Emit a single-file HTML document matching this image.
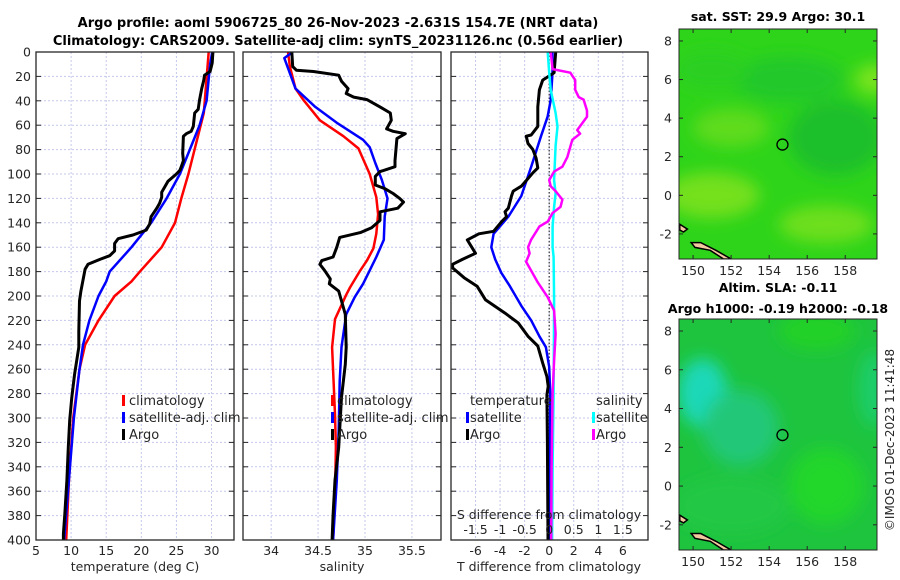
<!DOCTYPE html>
<html><head><meta charset="utf-8"><style>
html,body{margin:0;padding:0;background:#fff;width:900px;height:580px;overflow:hidden}
svg text{font-family:"DejaVu Sans","Liberation Sans",sans-serif;fill:#262626}
</style></head><body>
<svg id="chart" xmlns="http://www.w3.org/2000/svg" width="900" height="580" viewBox="0 0 900 580">
<defs>
<filter id="blur6" x="-50%" y="-50%" width="200%" height="200%"><feGaussianBlur stdDeviation="8"/></filter>
<clipPath id="clipMap1"><rect x="679" y="29" width="198" height="230"/></clipPath>
<clipPath id="clipMap2"><rect x="679" y="319" width="198" height="231"/></clipPath>
<clipPath id="clipP1"><rect x="36" y="52" width="198" height="488"/></clipPath>
<clipPath id="clipP2"><rect x="243" y="52" width="198" height="488"/></clipPath>
<clipPath id="clipP3"><rect x="451" y="52" width="197" height="488"/></clipPath>
</defs>
<text x="338" y="27" font-size="13" font-weight="bold" text-anchor="middle" style="fill:#000">Argo profile: aoml 5906725_80 26-Nov-2023 -2.631S 154.7E (NRT data)</text>
<text x="338" y="45" font-size="13" font-weight="bold" text-anchor="middle" style="fill:#000">Climatology: CARS2009. Satellite-adj clim: synTS_20231126.nc (0.56d earlier)</text>
<g id="panels"></g>
<g id="maps"></g>
<text x="894" y="440" font-size="12" text-anchor="middle" transform="rotate(-90 894 440)">©IMOS 01-Dec-2023 11:41:48</text>
</svg>
<script>
// ---------- data ----------
const depthTicks = [0,20,40,60,80,100,120,140,160,180,200,220,240,260,280,300,320,340,360,380,400];
const tempTicks = [5,10,15,20,25,30];
const salTicks = [34,34.5,35,35.5];
const salTickLabels = ['34','34.5','35','35.5'];
const tdiffTicks = [-6,-4,-2,0,2,4,6];
const sdiffTicks = [-1.5,-1,-0.5,0,0.5,1,1.5];
const sdiffTickLabels = ['-1.5','-1','-0.5','0','0.5','1','1.5'];

const climTdepth = [0,50,100,120,140,160,180,188,200,220,240,260,300,350,400];
const climT = [29.6,28.9,26.7,25.7,24.8,22.9,19.8,18.6,16.2,13.9,12.0,11.2,10.3,9.7,9.3];
const satTdepth = [0,10,40,60,80,100,120,140,160,180,188,200,220,240,260,300,350,400];
const satT = [30.1,29.8,29.3,28.3,26.9,25.5,23.6,21.4,18.6,15.5,15.0,13.9,12.6,11.7,11.2,10.4,9.7,9.0];
const argoTdepth = [0,9,16,19,23,30,39,47,50,61,65,67,69,83,89,94,97,100,106,115,119,124,128,135,141,146,150,153,157,163,167,170,174,178,187,196,204,229,242,253,264,283,302,324,351,379,395,400];
const argoT = [30.2,30.1,29.8,29.0,28.9,28.6,28.3,28.1,27.6,27.4,27.1,26.4,26.0,25.9,26.0,25.7,25.5,25.0,23.8,22.9,22.9,22.6,22.2,21.4,21.2,20.7,18.8,16.7,16.2,16.2,15.5,14.1,12.4,12.0,11.7,11.4,11.2,11.1,11.1,10.8,10.5,10.1,9.8,9.6,9.4,9.1,8.9,8.9];

const climSdepth = [0,12,30,39,56,69,79,100,119,133,149,161,171,179,193,199,219,242,261,297,324,365,400];
const climS = [34.18,34.20,34.26,34.34,34.52,34.77,34.93,35.05,35.12,35.14,35.12,35.09,35.02,34.95,34.84,34.80,34.68,34.65,34.66,34.68,34.69,34.68,34.66];
const satSdepth = [0,5,30,45,58,72,78,91,105,120,135,154,168,179,190,201,215,242,270,310,351,400];
const satS = [34.23,34.14,34.26,34.47,34.70,34.98,35.05,35.11,35.18,35.24,35.21,35.20,35.12,35.05,34.98,34.89,34.80,34.75,34.73,34.72,34.70,34.66];
const argoSdepth = [0,12,15,16,19,24,30,34,37,39,45,50,56,63,65,67,71,89,94,98,102,109,112,116,120,123,128,131,138,144,148,152,160,168,171,174,179,186,190,196,204,215,242,256,283,324,351,379,400];
const argoS = [34.22,34.23,34.27,34.45,34.72,34.75,34.82,34.80,34.88,35.02,35.16,35.27,35.28,35.23,35.30,35.43,35.34,35.32,35.32,35.16,35.11,35.11,35.21,35.30,35.37,35.41,35.35,35.16,35.16,35.07,34.95,34.73,34.70,34.66,34.54,34.52,34.57,34.63,34.62,34.72,34.75,34.79,34.80,34.79,34.75,34.72,34.68,34.66,34.65];

const satTdiffDepth = [0,17,39,53,69,94,118,135,149,160,170,181,192,208,220,233,242,258,280,320,360,400];
const satTdiff = [0.27,0.27,0.13,-0.13,-0.67,-1.47,-2.27,-3.33,-4.53,-4.72,-4.40,-3.9,-3.2,-2.27,-1.47,-0.8,-0.27,0,0.08,0.06,0.05,0.04];
const argoTdiffDepth = [0,17,23,31,45,61,68,69,75,80,87,95,99,107,110,114,118,128,131,135,139,147,149,154,165,170,174,177,185,192,203,214,222,233,241,255,266,274,281,320,360,400];
const argoTdiff = [0.53,0.4,-0.53,-0.8,-0.93,-0.93,-1.47,-1.87,-1.73,-1.33,-1.07,-0.93,-1.33,-2.0,-2.27,-2.93,-3.07,-3.33,-3.6,-3.47,-3.87,-4.53,-5.73,-6.67,-6.0,-7.07,-7.87,-7.87,-6.93,-5.87,-5.2,-3.6,-2.53,-1.73,-0.93,-0.53,-0.19,-0.08,-0.19,-0.15,-0.12,-0.1];
const satSdiffDepth = [0,17,31,50,61,77,105,116,127,143,160,168,203,280,340,400];
const satSdiff = [-0.03,0,0.03,0.13,0.17,0.13,0.1,0.13,0.1,0.07,0.07,0.09,0.1,0.09,0.07,0.06];
const argoSdiffDepth = [0,14,17,23,31,37,39,48,53,64,67,72,86,94,98,105,110,114,121,127,132,139,143,154,160,165,172,179,189,201,212,231,253,280,340,400];
const argoSdiff = [0.03,0.07,0.43,0.53,0.53,0.6,0.7,0.77,0.77,0.57,0.63,0.47,0.37,0.27,0.1,0,0.03,0.13,0.27,0.23,0.07,-0.03,-0.2,-0.37,-0.43,-0.4,-0.47,-0.37,-0.23,-0.03,0.1,0.13,0.1,0.07,0.05,0.04];

const lonTicks = [150,152,154,156,158];
const latTicks = [-2,0,2,4,6,8];
const argoLon = 154.7, argoLat = 2.63;

// ---------- helpers ----------
const NS = 'http://www.w3.org/2000/svg';
function mk(tag, attrs, parent){const e=document.createElementNS(NS,tag);for(const k in attrs)e.setAttribute(k,attrs[k]);if(parent)parent.appendChild(e);return e;}
const Y0=52, Y1=540;
const yScale = d => Y0 + d/400*(Y1-Y0);
function lin(d0,d1,r0,r1){return v=>r0+(v-d0)/(d1-d0)*(r1-r0);}

const panelsG = document.getElementById('panels');
function drawPanel(name, x0, x1, xs, gridVals, clip){
  const g = mk('g',{},panelsG);
  
  
  gridVals.forEach(v=>{
    const gl=mk('line',{x1:xs(v),x2:xs(v),y1:Y0,y2:Y1,stroke:'#c4c8ea','stroke-width':1,'stroke-dasharray':'2,2'},g);
    
    
  });
  depthTicks.forEach(d=>{
    if(d===0||d===400) return;
    const gl=mk('line',{x1:x0,x2:x1,y1:yScale(d),y2:yScale(d),stroke:'#c4c8ea','stroke-width':1,'stroke-dasharray':'2,2'},g);
    
    
    mk('line',{x1:x0,x2:x0+5,y1:yScale(d),y2:yScale(d),stroke:'#262626','stroke-width':1},g);
    mk('line',{x1:x1-5,x2:x1,y1:yScale(d),y2:yScale(d),stroke:'#262626','stroke-width':1},g);
  });
  return g;
}
function drawLine(g, name, depths, vals, xs, color, w, clip){
  const pts = depths.map((d,i)=>xs(vals[i]).toFixed(1)+','+yScale(d).toFixed(1)).join(' ');
  const pl = mk('polyline',{points:pts,fill:'none',stroke:color,'stroke-width':w,'stroke-linejoin':'round','clip-path':'url(#'+clip+')'},g);
  
  
}
function frame(g, x0, x1){
  const r=mk('rect',{x:x0,y:Y0,width:x1-x0,height:Y1-Y0,fill:'none',stroke:'#262626','stroke-width':1.3},g);
  
  
}
function txt(g, name, x, y, s, size, anchor){
  const t=mk('text',{x:x,y:y,'font-size':size,'text-anchor':anchor||'start'},g);
  t.textContent=s;
  
  
  return t;
}
function legendMark(g, x, y, color){
  const m=mk('rect',{x:x,y:y-10,width:3,height:11,fill:color},g);
  
  
}

// ---------- panel 1: temperature ----------
const xT = lin(5,33.2,36,234);
const p1 = drawPanel('temperature-panel',36,234,xT,tempTicks.slice(1),'clipP1');
drawLine(p1,'climatology-temperature-line',climTdepth,climT,xT,'#ff0000',2.5,'clipP1');
drawLine(p1,'satellite-temperature-line',satTdepth,satT,xT,'#0000ff',2.5,'clipP1');
drawLine(p1,'argo-temperature-line',argoTdepth,argoT,xT,'#000000',3,'clipP1');
frame(p1,36,234);
depthTicks.forEach(d=>txt(p1,'y-tick-label',31,yScale(d)+4.5,String(d),12.5,'end'));
tempTicks.forEach(v=>txt(p1,'x-tick-label',xT(v),555,String(v),12.5,'middle'));
txt(p1,'x-axis-title',135,571,'temperature (deg C)',12.5,'middle');
legendMark(p1,122,405,'#ff0000');txt(p1,'legend-entry',129,405,'climatology',13);
legendMark(p1,122,422,'#0000ff');txt(p1,'legend-entry',129,422,'satellite-adj. clim',13);
legendMark(p1,122,439,'#000000');txt(p1,'legend-entry',129,439,'Argo',13);

// ---------- panel 2: salinity ----------
const xS = lin(33.7,35.81,243,441);
const p2 = drawPanel('salinity-panel',243,441,xS,salTicks,'clipP2');
drawLine(p2,'climatology-salinity-line',climSdepth,climS,xS,'#ff0000',2.5,'clipP2');
drawLine(p2,'satellite-salinity-line',satSdepth,satS,xS,'#0000ff',2.5,'clipP2');
drawLine(p2,'argo-salinity-line',argoSdepth,argoS,xS,'#000000',3,'clipP2');
frame(p2,243,441);
salTicks.forEach((v,i)=>txt(p2,'x-tick-label',xS(v),555,salTickLabels[i],12.5,'middle'));
txt(p2,'x-axis-title',342,571,'salinity',12.5,'middle');
legendMark(p2,331,405,'#ff0000');txt(p2,'legend-entry',337,405,'climatology',13);
legendMark(p2,331,422,'#0000ff');txt(p2,'legend-entry',337,422,'satellite-adj. clim',13);
legendMark(p2,331,439,'#000000');txt(p2,'legend-entry',337,439,'Argo',13);

// ---------- panel 3: differences ----------
const xD = lin(-8,8.05,451,648);
const xSD = v => xD(v*4);
const p3 = drawPanel('difference-panel',451,648,xD,tdiffTicks,'clipP3');
const zl=mk('line',{x1:xD(0),x2:xD(0),y1:Y0,y2:Y1,stroke:'#333','stroke-width':1.2,'stroke-dasharray':'1.5,2'},p3);


drawLine(p3,'satellite-T-difference-line',satTdiffDepth,satTdiff,xD,'#0000ff',2.5,'clipP3');
drawLine(p3,'argo-T-difference-line',argoTdiffDepth,argoTdiff,xD,'#000000',3,'clipP3');
drawLine(p3,'satellite-S-difference-line',satSdiffDepth,satSdiff,xSD,'#00ffff',2.5,'clipP3');
drawLine(p3,'argo-S-difference-line',argoSdiffDepth,argoSdiff,xSD,'#ff00ff',2.5,'clipP3');
frame(p3,451,648);
tdiffTicks.forEach(v=>txt(p3,'x-tick-label',xD(v),555,String(v),12.5,'middle'));
txt(p3,'x-axis-title',549,571,'T difference from climatology',12.5,'middle');
sdiffTicks.forEach((v,i)=>txt(p3,'s-tick-label',xSD(v),534,sdiffTickLabels[i],12.5,'middle'));
txt(p3,'s-axis-title',549,519,'S difference from climatology',12.5,'middle');
txt(p3,'legend-title-temperature',470,405,'temperature',13);
txt(p3,'legend-title-salinity',596,405,'salinity',13);
legendMark(p3,466,422,'#0000ff');txt(p3,'legend-entry',470,422,'satellite',13);
legendMark(p3,466,439,'#000000');txt(p3,'legend-entry',470,439,'Argo',13);
legendMark(p3,592,422,'#00ffff');txt(p3,'legend-entry',596,422,'satellite',13);
legendMark(p3,592,439,'#ff00ff');txt(p3,'legend-entry',596,439,'Argo',13);

// ---------- maps ----------
const mapsG = document.getElementById('maps');
function drawMap(name, top, bottom, clip, base, blobs, title, title2){
  const g = mk('g',{},mapsG);
  
  
  const mx = lin(149.26,159.67,679,877);
  const my = lin(8.62,-3.3,top,bottom);
  const inner = mk('g',{'clip-path':'url(#'+clip+')'},g);
  mk('rect',{x:679,y:top,width:198,height:bottom-top,fill:base},inner);
  const bg = mk('g',{filter:'url(#blur6)'},inner);
  blobs.forEach(b=>{
    const e=mk('ellipse',{cx:mx(b[0]),cy:my(b[1]),rx:b[2]*19,ry:b[3]*19,fill:b[4]},bg);
    
    
  });
  const land = [[149.3,-1.5],[149.7,-1.75],[149.5,-1.9],[149.3,-1.8]];
  const land2 = [[149.9,-2.45],[150.4,-2.45],[151.2,-2.85],[152.0,-3.3],[151.6,-3.3],[150.9,-2.85],[150.1,-2.7]];
  [land,land2].forEach(L=>{
    const p=mk('polygon',{points:L.map(q=>mx(q[0])+','+my(q[1])).join(' '),fill:'#f5c9a0',stroke:'#000','stroke-width':1.5},inner);
    
    
  });
  const c=mk('circle',{cx:mx(argoLon),cy:my(argoLat),r:5.5,fill:'none',stroke:'#000','stroke-width':1.3},g);
  
  
  const fr=mk('rect',{x:679,y:top,width:198,height:bottom-top,fill:'none',stroke:'#262626','stroke-width':1},g);
  
  
  lonTicks.forEach(v=>{
    mk('line',{x1:mx(v),x2:mx(v),y1:bottom,y2:bottom-4,stroke:'#262626'},g);
    mk('line',{x1:mx(v),x2:mx(v),y1:top,y2:top+4,stroke:'#262626'},g);
    txt(g,'map-lon-tick-label',mx(v),bottom+16,String(v),12.5,'middle');
  });
  latTicks.forEach(v=>{
    mk('line',{x1:679,x2:683,y1:my(v),y2:my(v),stroke:'#262626'},g);
    mk('line',{x1:873,x2:877,y1:my(v),y2:my(v),stroke:'#262626'},g);
    txt(g,'map-lat-tick-label',672,my(v)+4.5,String(v),12.5,'end');
  });
  const t1=txt(g,'map-title',778,title2?top-27:top-8,title,12.5,'middle');
  t1.setAttribute('font-weight','bold');t1.style.fill='#000';
  if(title2){const t2=txt(g,'map-title-line-2',778,top-6,title2,12.5,'middle');t2.setAttribute('font-weight','bold');t2.style.fill='#000';}
}
drawMap('sst-map',29,259,'clipMap1','#2ed41a',[
  [151,0,2.5,1.2,'#74e01e'],[152,3.5,2,1,'#5edb1c'],[157,-1.5,2.5,1,'#6ddf1f'],
  [157.5,3,2.5,2,'#1cc02c'],[155,6,3,1.2,'#22c82a'],[159.5,6,1,0.8,'#7ae41e'],[151,6.5,2,1,'#2ccf22']
],'sat. SST: 29.9 Argo: 30.1');
drawMap('sla-map',319,550,'clipMap2','#1ec43e',[
  [150.5,4.8,1.3,1.8,'#1cd8b8'],[152.5,3,2,2,'#20c878'],[157,0,2,2,'#22d62a'],
  [156.5,8,2,1,'#22d125'],[159.5,5,0.8,2,'#1fcd6a'],[152,-1,3,1.5,'#20c845']
],'Altim. SLA: -0.11','Argo h1000: -0.19 h2000: -0.18');
</script>
</body></html>
